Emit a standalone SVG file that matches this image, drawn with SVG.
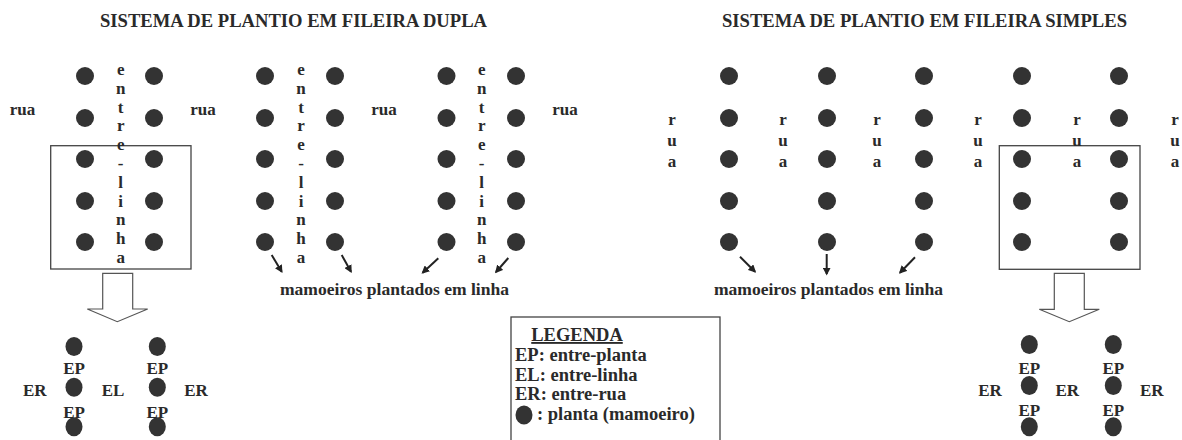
<svg xmlns="http://www.w3.org/2000/svg" width="1182" height="440" viewBox="0 0 1182 440">
<defs>
<style>
.t{font-family:"Liberation Serif","Times New Roman",serif;fill:#2a2a2a}
.title{font-size:18.5px;font-weight:bold}
.lb{font-size:17px;font-weight:bold;text-anchor:middle}
.tx{font-size:17.5px;font-weight:bold}
.lg{font-size:18.5px;font-weight:bold}
.d{fill:#333}
.box{fill:none;stroke:#444;stroke-width:1.3}
.hol{fill:#fff;stroke:#555;stroke-width:1.2}
.ar{stroke:#222;stroke-width:2;fill:none;marker-end:url(#ah)}
</style>
<marker id="ah" viewBox="0 0 10 10" refX="8" refY="5" markerWidth="4" markerHeight="4" orient="auto" markerUnits="strokeWidth">
<path d="M0,0 L10,5 L0,10 z" fill="#222"/>
</marker>
<circle id="dot" r="9" class="d"/>
<ellipse id="md" rx="8.5" ry="9.5" class="d"/>
</defs>
<rect width="1182" height="440" fill="#fff"/>

<g id="titles">
<text class="t title" x="100" y="27" textLength="387" lengthAdjust="spacingAndGlyphs">SISTEMA DE PLANTIO EM FILEIRA DUPLA</text>
<text class="t title" x="722" y="27" textLength="405" lengthAdjust="spacingAndGlyphs">SISTEMA DE PLANTIO EM FILEIRA SIMPLES</text>
</g>

<g id="box-dupla"><rect class="box" x="50.7" y="145.7" width="140.3" height="123.3"/></g>
<g id="box-simples"><rect class="box" x="999.3" y="145.7" width="140.7" height="123.6"/></g>

<g id="dupla-plants">
<use href="#dot" x="85" y="76"/><use href="#dot" x="154" y="76"/>
<use href="#dot" x="85" y="118"/><use href="#dot" x="154" y="118"/>
<use href="#dot" x="85" y="159"/><use href="#dot" x="154" y="159"/>
<use href="#dot" x="85" y="201"/><use href="#dot" x="154" y="201"/>
<use href="#dot" x="85" y="242"/><use href="#dot" x="154" y="242"/>
<use href="#dot" x="265" y="76"/><use href="#dot" x="335" y="76"/>
<use href="#dot" x="265" y="118"/><use href="#dot" x="335" y="118"/>
<use href="#dot" x="265" y="159"/><use href="#dot" x="335" y="159"/>
<use href="#dot" x="265" y="201"/><use href="#dot" x="335" y="201"/>
<use href="#dot" x="265" y="242"/><use href="#dot" x="335" y="242"/>
<use href="#dot" x="446.5" y="76"/><use href="#dot" x="516" y="76"/>
<use href="#dot" x="446.5" y="118"/><use href="#dot" x="516" y="118"/>
<use href="#dot" x="446.5" y="159"/><use href="#dot" x="516" y="159"/>
<use href="#dot" x="446.5" y="201"/><use href="#dot" x="516" y="201"/>
<use href="#dot" x="446.5" y="242"/><use href="#dot" x="516" y="242"/>
</g>

<g id="entrelinha-labels" class="t lb">
<text x="120.7" y="75">e</text><text x="120.7" y="93.8">n</text><text x="120.7" y="112.6">t</text><text x="120.7" y="131.4">r</text><text x="120.7" y="150.2">e</text><text x="120.7" y="169">-</text><text x="120.7" y="187.8">l</text><text x="120.7" y="206.6">i</text><text x="120.7" y="225.4">n</text><text x="120.7" y="244.2">h</text><text x="120.7" y="263">a</text>
<text x="301" y="75">e</text><text x="301" y="93.8">n</text><text x="301" y="112.6">t</text><text x="301" y="131.4">r</text><text x="301" y="150.2">e</text><text x="301" y="169">-</text><text x="301" y="187.8">l</text><text x="301" y="206.6">i</text><text x="301" y="225.4">n</text><text x="301" y="244.2">h</text><text x="301" y="263">a</text>
<text x="481.7" y="75">e</text><text x="481.7" y="93.8">n</text><text x="481.7" y="112.6">t</text><text x="481.7" y="131.4">r</text><text x="481.7" y="150.2">e</text><text x="481.7" y="169">-</text><text x="481.7" y="187.8">l</text><text x="481.7" y="206.6">i</text><text x="481.7" y="225.4">n</text><text x="481.7" y="244.2">h</text><text x="481.7" y="263">a</text>
</g>

<g id="rua-dupla" class="t lb">
<text x="22.5" y="115">rua</text>
<text x="203" y="115">rua</text>
<text x="384" y="115">rua</text>
<text x="565" y="115">rua</text>
</g>

<g id="simples-plants">
<use href="#dot" x="729" y="76"/><use href="#dot" x="827" y="76"/><use href="#dot" x="924" y="76"/><use href="#dot" x="1022" y="76"/><use href="#dot" x="1119" y="76"/>
<use href="#dot" x="729" y="118"/><use href="#dot" x="827" y="118"/><use href="#dot" x="924" y="118"/><use href="#dot" x="1022" y="118"/><use href="#dot" x="1119" y="118"/>
<use href="#dot" x="729" y="159"/><use href="#dot" x="827" y="159"/><use href="#dot" x="924" y="159"/><use href="#dot" x="1022" y="159"/><use href="#dot" x="1119" y="159"/>
<use href="#dot" x="729" y="201"/><use href="#dot" x="827" y="201"/><use href="#dot" x="924" y="201"/><use href="#dot" x="1022" y="201"/><use href="#dot" x="1119" y="201"/>
<use href="#dot" x="729" y="242"/><use href="#dot" x="827" y="242"/><use href="#dot" x="924" y="242"/><use href="#dot" x="1022" y="242"/><use href="#dot" x="1119" y="242"/>
</g>

<g id="rua-simples" class="t lb">
<text x="672" y="124.5">r</text><text x="672" y="145.5">u</text><text x="672" y="166.5">a</text>
<text x="783" y="124.5">r</text><text x="783" y="145.5">u</text><text x="783" y="166.5">a</text>
<text x="877" y="124.5">r</text><text x="877" y="145.5">u</text><text x="877" y="166.5">a</text>
<text x="978" y="124.5">r</text><text x="978" y="145.5">u</text><text x="978" y="166.5">a</text>
<text x="1077" y="124.5">r</text><text x="1077" y="145.5">u</text><text x="1077" y="166.5">a</text>
<text x="1175" y="124.5">r</text><text x="1175" y="145.5">u</text><text x="1175" y="166.5">a</text>
</g>

<g id="connectors">
<line class="ar" x1="271.7" y1="255" x2="281.7" y2="271.7"/>
<line class="ar" x1="341.7" y1="255" x2="351" y2="271.7"/>
<line class="ar" x1="438.3" y1="258.3" x2="422.7" y2="272.7"/>
<line class="ar" x1="508.3" y1="258" x2="496" y2="272"/>
<line class="ar" x1="740" y1="256.7" x2="755" y2="271.7"/>
<line class="ar" x1="826.7" y1="254" x2="826.7" y2="274"/>
<line class="ar" x1="915" y1="257.3" x2="900" y2="272.7"/>
<polygon class="hol" points="102.7,273.3 132.7,273.3 132.7,309 147.7,309 117.3,321.7 87.3,309 102.7,309"/>
<polygon class="hol" points="1054.3,273.3 1084.3,273.3 1084.3,309.3 1099.3,309.3 1069.3,321.7 1039.3,309.3 1054.3,309.3"/>
</g>

<g id="captions">
<text class="t tx" x="280" y="295" textLength="229" lengthAdjust="spacingAndGlyphs">mamoeiros plantados em linha</text>
<text class="t tx" x="714" y="295" textLength="229" lengthAdjust="spacingAndGlyphs">mamoeiros plantados em linha</text>
</g>

<g id="detail-dupla">
<use href="#md" x="74" y="346.5"/><use href="#md" x="157.3" y="346.5"/>
<use href="#md" x="74" y="387.3"/><use href="#md" x="157.3" y="387.3"/>
<use href="#md" x="74" y="426.7"/><use href="#md" x="157.3" y="426.7"/>
<g class="t lb">
<text x="74" y="374">EP</text><text x="157.3" y="374">EP</text>
<text x="74" y="418">EP</text><text x="157.3" y="418">EP</text>
<text x="34.7" y="396">ER</text><text x="113" y="396">EL</text><text x="196" y="396">ER</text>
</g>
</g>

<g id="detail-simples">
<use href="#md" x="1029.3" y="344.5"/><use href="#md" x="1113.3" y="344.5"/>
<use href="#md" x="1029.3" y="385.5"/><use href="#md" x="1113.3" y="385.5"/>
<use href="#md" x="1029.3" y="426.7"/><use href="#md" x="1113.3" y="426.7"/>
<g class="t lb">
<text x="1029.3" y="374">EP</text><text x="1113.3" y="374">EP</text>
<text x="1029.3" y="416">EP</text><text x="1113.3" y="416">EP</text>
<text x="990" y="396">ER</text><text x="1067.3" y="396">ER</text><text x="1151.7" y="396">ER</text>
</g>
</g>

<g id="legend">
<rect class="box" x="511" y="317" width="209" height="124"/>
<text class="t lg" x="577" y="341" text-anchor="middle" text-decoration="underline">LEGENDA</text>
<text class="t lg" x="515" y="361">EP: entre-planta</text>
<text class="t lg" x="515" y="380.5">EL: entre-linha</text>
<text class="t lg" x="515" y="400">ER: entre-rua</text>
<use href="#md" x="524" y="415"/>
<text class="t lg" x="537" y="420">: planta (mamoeiro)</text>
</g>
</svg>
